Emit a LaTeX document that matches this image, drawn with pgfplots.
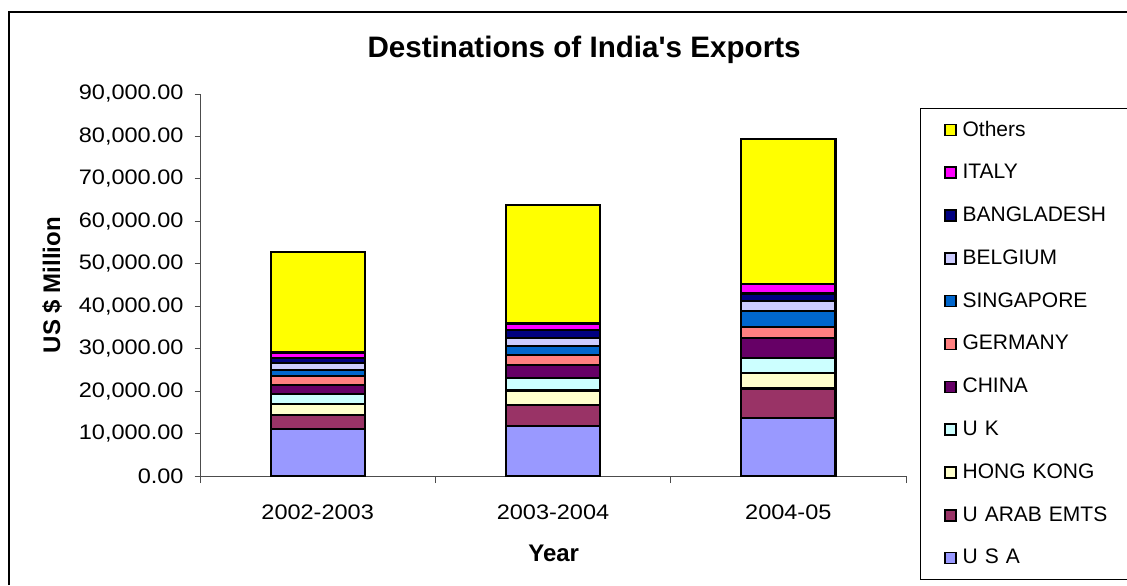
\documentclass[border=0pt]{standalone}
\usepackage{fontspec}
\setmainfont{Liberation Sans}
\newfontfamily\tickfont[FakeStretch=1.12]{Liberation Sans}
\usepackage{pgfplots}
\usepackage{pgfplotstable}
\pgfplotsset{compat=1.18}

\definecolor{cUSA}{HTML}{9999FF}
\definecolor{cUAE}{HTML}{993366}
\definecolor{cHK}{HTML}{FFFFCC}
\definecolor{cUK}{HTML}{CCFFFF}
\definecolor{cCHN}{HTML}{660066}
\definecolor{cGER}{HTML}{FF8080}
\definecolor{cSIN}{HTML}{0066CC}
\definecolor{cBEL}{HTML}{CCCCFF}
\definecolor{cBAN}{HTML}{000080}
\definecolor{cITA}{HTML}{FF00FF}
\definecolor{cOTH}{HTML}{FFFF00}

\pgfplotstableread{
x usa uae hk uk china germany singapore belgium bangladesh italy others
1 11000 3300 2600 2500 2000 2100 1500 1550 1250 1300 23600
2 11700 5100 3350 2950 3050 2400 2100 1800 1900 1600 27900
3 13600 7000 3700 3500 4700 2600 3850 2350 1700 2200 34200
}\datatable

\begin{document}
\begin{tikzpicture}
\useasboundingbox (0,0) rectangle (563.5pt,292.5pt);
\draw[line width=0.6pt] (4.5pt,0pt) -- (4.5pt,286.5pt) -- (563.5pt,286.5pt);
\begin{axis}[
  at={(100pt,54.5pt)}, anchor=south west,
  scale only axis, width=353pt, height=191pt,
  ybar stacked, bar width=0.4,
  xmin=0.5, xmax=3.5, ymin=0, ymax=90000,
  xtick={1,2,3}, xticklabels={2002-2003,2003-2004,2004-05},
  minor xtick={0.5,1.5,2.5,3.5},
  ytick={0,10000,...,90000},
  scaled y ticks=false,
  axis lines*=left,
  tick align=outside,
  major tick length=2.7pt, minor tick length=3.5pt,
  major x tick style={draw=none},
  axis line style={black!70, line width=0.5pt},
  every tick/.style={black!70, line width=0.5pt},
  /pgf/number format/.cd, fixed, fixed zerofill, precision=2, 1000 sep={,}, assume math mode=true,
  /pgfplots/.cd,
  yticklabel style={font=\tickfont\fontsize{10.5}{12}\selectfont, xshift=-2pt},
  xticklabel style={font=\tickfont\fontsize{10.5}{12}\selectfont, anchor=base, yshift=-18.8pt},
  title={Destinations of India\textquotesingle s Exports},
  title style={at={(0.544,1.063)}, anchor=base, font=\bfseries\fontsize{14.8}{17}\selectfont},
  xlabel={Year},
  xlabel style={at={(0.501,-0.2225)}, anchor=base, font=\bfseries\fontsize{12}{14}\selectfont},
  ylabel={US \$ Million},
  ylabel style={at={(-0.198,0.5)}, anchor=base, font=\bfseries\fontsize{12}{14}\selectfont},
  reverse legend,
  legend cell align=left,
  legend style={at={(1.0198,0.9634)}, anchor=north west, draw=black, line width=0.6pt,
    inner sep=0pt, row sep=0pt,
    font=\fontsize{10.5}{12}\selectfont,
    nodes={inner sep=0pt, minimum height=21.4pt, text width=83.5pt, align=left}},
  every axis plot/.append style={draw=black, line width=1.1pt},
  legend image code/.code={\path (-11.5pt,0pt) (8.4pt,0pt);
    \draw[#1, line width=0.8pt] (0pt,-2.75pt) rectangle (5.5pt,2.75pt);},
]
\addplot[fill=cUSA] table[x=x,y=usa]{\datatable};
\addlegendentry{U S A}
\addplot[fill=cUAE] table[x=x,y=uae]{\datatable};
\addlegendentry{U ARAB EMTS}
\addplot[fill=cHK] table[x=x,y=hk]{\datatable};
\addlegendentry{HONG KONG}
\addplot[fill=cUK] table[x=x,y=uk]{\datatable};
\addlegendentry{U K}
\addplot[fill=cCHN] table[x=x,y=china]{\datatable};
\addlegendentry{CHINA}
\addplot[fill=cGER] table[x=x,y=germany]{\datatable};
\addlegendentry{GERMANY}
\addplot[fill=cSIN] table[x=x,y=singapore]{\datatable};
\addlegendentry{SINGAPORE}
\addplot[fill=cBEL] table[x=x,y=belgium]{\datatable};
\addlegendentry{BELGIUM}
\addplot[fill=cBAN] table[x=x,y=bangladesh]{\datatable};
\addlegendentry{BANGLADESH}
\addplot[fill=cITA] table[x=x,y=italy]{\datatable};
\addlegendentry{ITALY}
\addplot[fill=cOTH] table[x=x,y=others]{\datatable};
\addlegendentry{Others}
\end{axis}
\end{tikzpicture}
\end{document}
